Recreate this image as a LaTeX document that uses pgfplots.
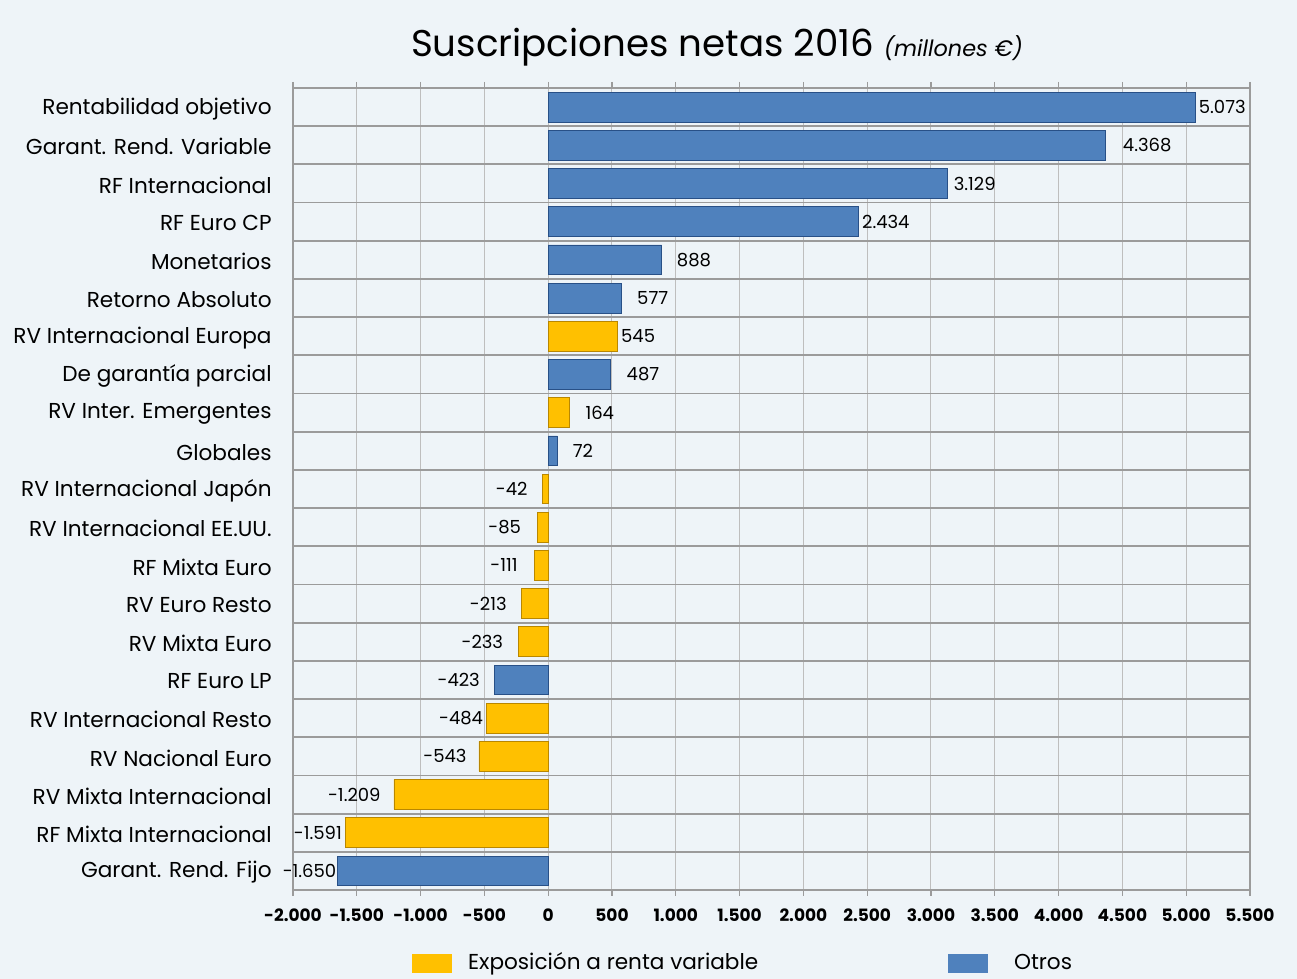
\documentclass[border=0pt]{standalone}
\usepackage{fontspec}
\setmainfont{Poppins}
\usepackage{pgfplots}
\usepackage{pgfplotstable}
\pgfplotsset{compat=1.18}
\definecolor{bg}{RGB}{238,244,248}
\definecolor{bluemain}{RGB}{79,129,189}
\definecolor{bluedark}{RGB}{40,80,135}
\definecolor{ymain}{RGB}{255,192,0}
\definecolor{ydark}{RGB}{185,135,0}
\definecolor{gridh}{RGB}{155,155,155}
\definecolor{gridv}{RGB}{190,190,190}

\pgfplotstableread{
y x g a
14 545 1.5 180
12 164 8 180
10 -42 -7.5 0
9 -85 -8 0
8 -111 -8 0
7 -213 -7 0
6 -233 -7.5 0
4 -484 -1.5 0
3 -543 -6 0
2 -1209 -6.5 0
1 -1591 -1.5 0
}\yellowdata

\pgfplotstableread{
y x g a
20 5073 1.5 180
19 4368 8.5 180
18 3129 3 180
17 2434 1.5 180
16 888 7.5 180
15 577 7.5 180
13 487 8 180
11 72 7.5 180
5 -423 -7 0
0 -1650 -0.5 0
}\bluedata

\begin{document}
\begin{tikzpicture}
\path[use as bounding box, fill=bg] (0,0) rectangle (648.5pt,489.5pt);
\node[anchor=base] at (358.5pt,461pt) {\fontsize{18.6}{22}\selectfont Suscripciones netas 2016 {\fontsize{11.2}{13}\selectfont\itshape (millones €)}};
\begin{axis}[
  at={(146.5pt,44.5pt)}, anchor=south west,
  scale only axis, width=478.5pt, height=401pt,
  xbar, bar width=0.78, bar shift=0pt,
  xmin=-2000, xmax=5500, ymin=-0.5, ymax=20.5,
  xtick={-2000,-1500,...,5500},
  ytick={0,...,20},
  yticklabels={Garant. Rend. Fijo, RF Mixta Internacional, RV Mixta Internacional, RV Nacional Euro, RV Internacional Resto, RF Euro LP, RV Mixta Euro, RV Euro Resto, RF Mixta Euro, RV Internacional EE.UU., RV Internacional Japón, Globales, RV Inter. Emergentes, De garantía parcial, RV Internacional Europa, Retorno Absoluto, Monetarios, RF Euro CP, RF Internacional, Garant. Rend. Variable, Rentabilidad objetivo},
  extra y ticks={-0.5,0.5,...,20.5},
  extra y tick labels={},
  extra y tick style={grid=major, major grid style={gridh, line width=0.9pt}, tick style={draw=none}},
  xmajorgrids,
  major grid style={gridv, line width=0.5pt},
  axis line style={gridh, line width=0.7pt},
  tick align=outside, major tick length=3pt,
  ytick style={draw=none},
  xtick style={gridh, line width=0.6pt},
  x tick label style={font=\fontsize{8.5}{10}\selectfont\bfseries, yshift=-3pt, /pgf/number format/.cd, 1000 sep={.}, assume math mode=true},
  y tick label style={font=\fontsize{10.8}{12}\selectfont, inner sep=0pt, xshift=-7.5pt, yshift=-0.8pt},
  axis background/.style={fill=bg},
  clip=false,
  point meta=x,
  nodes near coords={\pgfmathprintnumber[fixed,1000 sep={.},assume math mode=true]{\pgfplotspointmeta}},
  every node near coord/.append style={font=\fontsize{9}{10}\selectfont, anchor=\anc, xshift=\gap pt, inner sep=0pt, text=black},
  legend style={at={(0.118,-0.091)}, anchor=west, draw=none, fill=none, legend columns=2, font=\fontsize{10.8}{12}\selectfont,
    /tikz/every odd column/.append style={column sep=6pt},
    /tikz/every even column/.append style={column sep=93pt}},
]
\addplot[draw=ydark, fill=ymain,
  visualization depends on={\thisrow{g}\as\gap},
  visualization depends on={\thisrow{a}\as\anc},
  legend image code/.code={\fill[ymain] (0pt,-4.5pt) rectangle (19.5pt,4.5pt);}]
  table[x=x, y=y] {\yellowdata};
\addlegendentry{Exposición a renta variable}
\addplot[draw=bluedark, fill=bluemain,
  visualization depends on={\thisrow{g}\as\gap},
  visualization depends on={\thisrow{a}\as\anc},
  legend image code/.code={\fill[bluemain] (0pt,-4.5pt) rectangle (19.5pt,4.5pt);}]
  table[x=x, y=y] {\bluedata};
\addlegendentry{\hspace{5pt}Otros}
\end{axis}
\end{tikzpicture}
\end{document}
